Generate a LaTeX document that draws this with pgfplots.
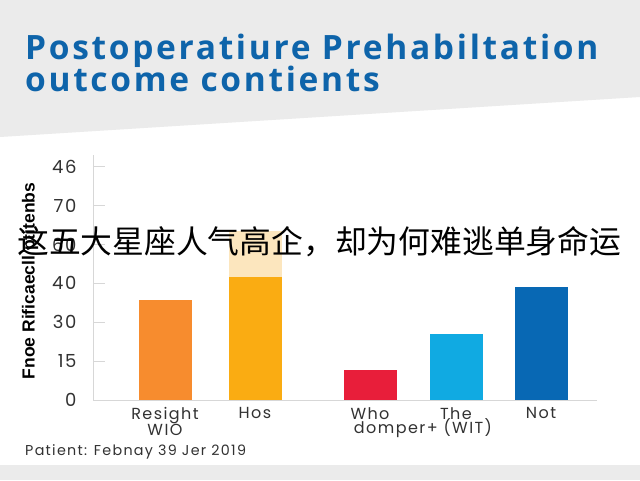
\documentclass[border=0pt]{standalone}
\usepackage{fontspec}
\usepackage{pgfplots}
\pgfplotsset{compat=1.18}
\setmainfont{Poppins}[LetterSpace=9]
\newfontfamily\titlefont{Open Sans}[LetterSpace=8]
\newfontfamily\cjk{Noto Sans CJK SC}
\newfontfamily\ylabfont{Liberation Sans}

\definecolor{titleblue}{RGB}{14,100,170}
\definecolor{bandgray}{RGB}{235,235,235}
\definecolor{axisgray}{RGB}{215,215,215}
\definecolor{labelgray}{RGB}{50,50,50}
\definecolor{c1}{RGB}{247,140,46}
\definecolor{c2}{RGB}{250,172,18}
\definecolor{c2light}{RGB}{252,230,190}
\definecolor{c3}{RGB}{232,30,58}
\definecolor{c4}{RGB}{16,170,226}
\definecolor{c5}{RGB}{8,104,180}

\begin{document}
\begin{tikzpicture}
\useasboundingbox (0pt,0pt) rectangle (640pt,480pt);
\fill[white] (0pt,0pt) rectangle (640pt,480pt);
% header band and footer strip
\fill[bandgray] (0pt,480pt) -- (640pt,480pt) -- (640pt,383pt) -- (0pt,343pt) -- cycle;
\fill[bandgray] (0pt,0pt) rectangle (640pt,15pt);
\node[anchor=base west, inner sep=0, text=titleblue,
      font=\titlefont\bfseries\fontsize{33.5}{36}\selectfont] at (25pt,420pt) {Postoperatiure Prehabiltation};
\node[anchor=base west, inner sep=0, text=titleblue,
      font=\titlefont\bfseries\fontsize{33.5}{36}\selectfont] at (25pt,388pt) {outcome contients};

\begin{axis}[
    at={(93pt,80pt)}, anchor=south west,
    width=504pt, height=245pt, scale only axis,
    xmin=93, xmax=597, ymin=0, ymax=94.5,
    axis x line*=bottom, axis y line*=left,
    axis line style={draw=axisgray, line width=1pt, -},
    ybar, bar width=53, bar shift=0pt,
    xtick={165,255,370,456,541},
    xticklabels={Resight\\WIO, Hos, Who, The, Not},
    xtick style={draw=none},
    ytick={0,15,30,45,60,75,90},
    yticklabels={0,15,30,40,60,70,46},
    ytick align=inside, major tick length=12pt,
    ytick style={draw=axisgray, line width=1pt},
    /pgf/number format/assume math mode=true,
    yticklabel style={font=\fontsize{18}{18}\selectfont, text=labelgray, xshift=-13pt},
    xticklabel style={font=\fontsize{16}{16}\selectfont, text=labelgray, align=center, yshift=8pt},
]
\addplot[fill=c1, draw=none] coordinates {(165,38.7)};
\addplot[fill=c2light, draw=none] coordinates {(255,65)};
\addplot[fill=c2, draw=none] coordinates {(255,47.5)};
\addplot[fill=c3, draw=none] coordinates {(370,11.6)};
\addplot[fill=c4, draw=none] coordinates {(456,25.5)};
\addplot[fill=c5, draw=none] coordinates {(541,43.7)};
\end{axis}

\node[anchor=base, inner sep=0, text=labelgray, font=\fontsize{16}{16}\selectfont] at (423pt,47pt) {domper+ (WIT)};
\node[rotate=90, inner sep=0, font=\ylabfont\bfseries\fontsize{17.5}{17.5}\selectfont] at (30pt,199pt) {Fnoe Rificaecll ptitenbs};
\node[anchor=west, inner sep=0, font=\cjk\fontsize{31.8}{32}\selectfont] at (17pt,238pt) {这五大星座人气高企，却为何难逃单身命运};
\node[anchor=west, inner sep=0, text=labelgray, font=\fontsize{14.3}{14}\selectfont] at (25pt,28pt) {Patient: Febnay 39 Jer 2019};
\end{tikzpicture}
\end{document}
